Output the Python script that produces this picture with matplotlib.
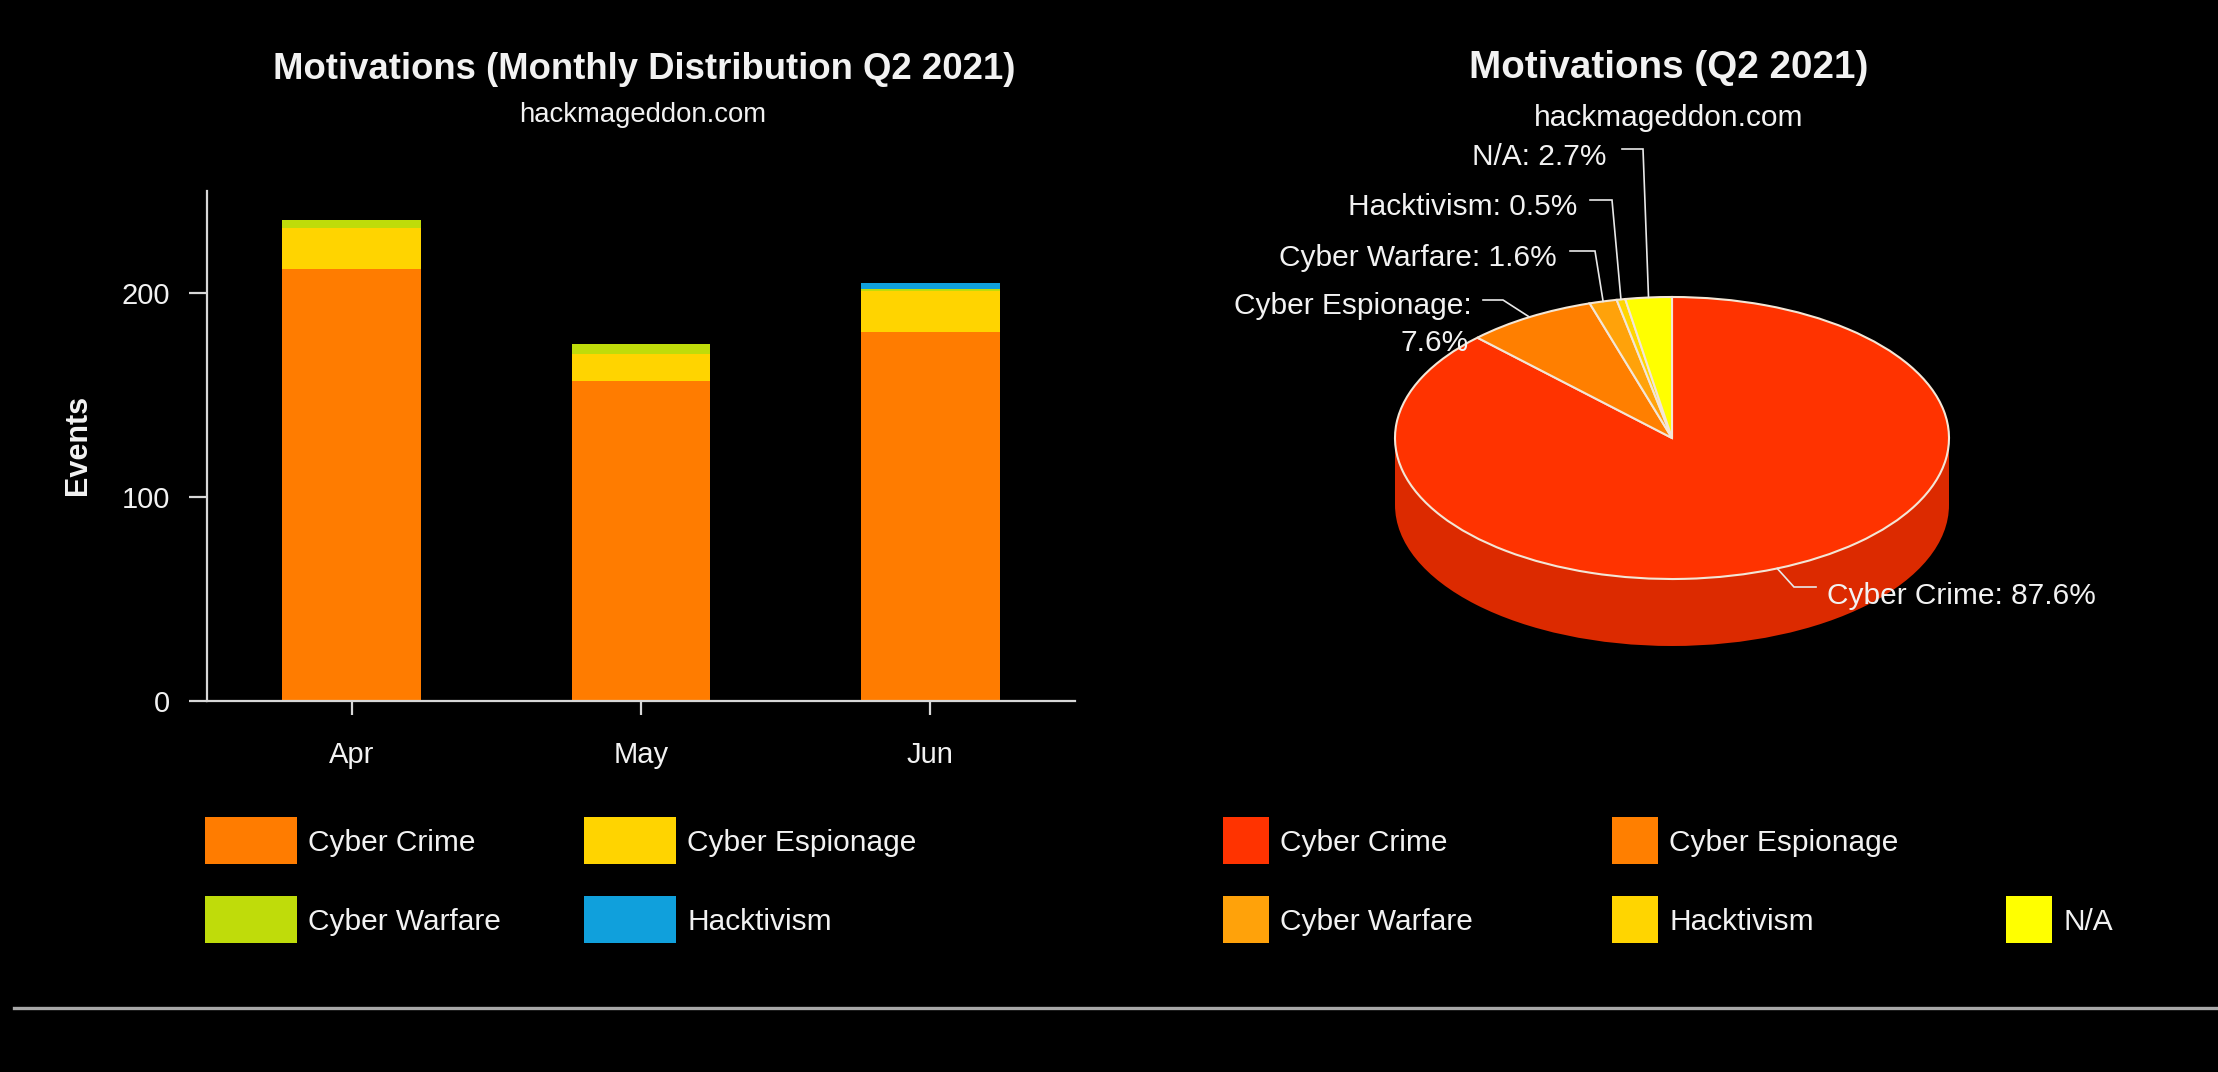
import matplotlib

matplotlib.use("Agg")
import matplotlib.pyplot as plt
import numpy as np
from matplotlib.lines import Line2D
from matplotlib.patches import Ellipse, Rectangle

plt.rcParams["font.family"] = ["Liberation Sans", "DejaVu Sans"]

# monthly counts per motivation (stacked bars)
MONTHS = ["Apr", "May", "Jun"]
MOTIVES = ["Cyber Crime", "Cyber Espionage", "Cyber Warfare", "Hacktivism"]
CYBER_CRIME = [212, 157, 181]
CYBER_ESPIONAGE = [20, 13, 20]
CYBER_WARFARE = [4, 5, 1]
HACKTIVISM = [0, 0, 3]
BAR_COLORS = ["#ff7c00", "#ffd400", "#bfdc0a", "#10a0dc"]
Y_TICKS = [0, 100, 200]

# quarter share per motivation (pie)
PIE_LABELS = ["Cyber Crime", "Cyber Espionage", "Cyber Warfare", "Hacktivism", "N/A"]
PIE_SHARES = [87.6, 7.6, 1.6, 0.5, 2.7]
PIE_COLORS = ["#ff3300", "#ff7f00", "#ffa20a", "#ffd500", "#ffff00"]

W, H = 2218, 1072
TEXT = "#f2f2f2"
AXIS = "#d8d8d8"


def fig_xy(px, py):
    return px / W, 1 - py / H


def pixel_rect(left, top, right, bottom):
    return [left / W, 1 - bottom / H, (right - left) / W, (bottom - top) / H]


fig = plt.figure(figsize=(W / 100, H / 100), dpi=100, facecolor="black")

# ---- stacked bars ----
ax = fig.add_axes(pixel_rect(207, 191, 1075, 701))
ax.set_facecolor("black")
x = np.arange(len(MONTHS))
bottom = np.zeros(len(MONTHS))
for vals, color in zip([CYBER_CRIME, CYBER_ESPIONAGE, CYBER_WARFARE, HACKTIVISM], BAR_COLORS):
    ax.bar(x, vals, width=0.48, bottom=bottom, color=color, linewidth=0)
    bottom += np.array(vals)

ax.set_xlim(-0.5, 2.5)
ax.set_ylim(0, 250)
ax.set_yticks(Y_TICKS)
ax.set_xticks(x, MONTHS)
for side in ["top", "right"]:
    ax.spines[side].set_visible(False)
for side in ["left", "bottom"]:
    ax.spines[side].set_color(AXIS)
    ax.spines[side].set_linewidth(1.6)
ax.tick_params(axis="y", length=13, width=1.6, pad=13.5, colors=AXIS, labelsize=21, labelcolor=TEXT)
ax.tick_params(axis="x", length=10, width=1.6, pad=19, colors=AXIS, labelsize=21, labelcolor=TEXT)
ax.set_ylabel("Events", fontsize=22, fontweight="bold", color=TEXT)
ax.yaxis.set_label_coords(-0.131, 0.502)

fig.text(*fig_xy(644, 79), "Motivations (Monthly Distribution Q2 2021)",
         ha="center", va="baseline", fontsize=26.3, fontweight="bold", color=TEXT)
fig.text(*fig_xy(643, 122), "hackmageddon.com",
         ha="center", va="baseline", fontsize=19.8, color=TEXT)

# ---- tilted pie ----
CX, CY, RX, RY, DEPTH = 1672, 438, 277, 141, 67
BOX_L, BOX_T, BOX_R, BOX_B = 1150, 100, 2200, 720
pax = fig.add_axes(pixel_rect(BOX_L, BOX_T, BOX_R, BOX_B))
pax.pie(PIE_SHARES, colors=PIE_COLORS, startangle=90, counterclock=False,
        wedgeprops=dict(edgecolor="#f3e6d6", linewidth=1.5))
pax.set_aspect("auto")
pax.set_xlim((BOX_L - CX) / RX, (BOX_R - CX) / RX)
pax.set_ylim((CY - BOX_B) / RY, (CY - BOX_T) / RY)
pax.axis("off")

# side wall of the disc, only the front half shows
d = DEPTH / RY
side = "#dc2a00"
pax.add_patch(Ellipse((0, -d), 2, 2, facecolor=side, edgecolor="none", zorder=0))
pax.add_patch(Rectangle((-1, -d), 2, d, facecolor=side, edgecolor="none", zorder=0))


def to_pie(px, py):
    return (px - CX) / RX, (CY - py) / RY


shares = np.array(PIE_SHARES)
mids = np.deg2rad(90 - 3.6 * (np.cumsum(shares) - shares / 2))

# label anchor (px), text alignment and leader elbow points (px)
LABEL_LAYOUT = [
    dict(text=(1827, 604), ha="left", leader=[(1794, 587), (1816, 587)], split=False),
    dict(text=(1472, 314), ha="right", leader=[(1503, 300), (1483, 300)], split=True),
    dict(text=(1557, 266), ha="right", leader=[(1595, 251), (1570, 251)], split=False),
    dict(text=(1577, 215), ha="right", leader=[(1612, 200), (1590, 200)], split=False),
    dict(text=(1607, 165), ha="right", leader=[(1643, 149), (1622, 149)], split=False),
]

for name, share, ang, lay in zip(PIE_LABELS, PIE_SHARES, mids, LABEL_LAYOUT):
    pts = [(np.cos(ang), np.sin(ang))] + [to_pie(*p) for p in lay["leader"]]
    xs, ys = zip(*pts)
    pax.plot(xs, ys, color="#e8e8e8", lw=1.2, solid_joinstyle="miter", zorder=2)
    tx, ty = to_pie(*lay["text"])
    if lay["split"]:
        pax.text(tx, ty, f"{name}:", ha="right", va="baseline", fontsize=21.5, color=TEXT)
        pax.text(*to_pie(lay["text"][0] - 3, lay["text"][1] + 37), f"{share}%",
                 ha="right", va="baseline", fontsize=21.5, color=TEXT)
    else:
        pax.text(tx, ty, f"{name}: {share}%", ha=lay["ha"], va="baseline",
                 fontsize=21.5, color=TEXT)

fig.text(*fig_xy(1669, 78), "Motivations (Q2 2021)",
         ha="center", va="baseline", fontsize=27.8, fontweight="bold", color=TEXT)
fig.text(*fig_xy(1669, 126), "hackmageddon.com",
         ha="center", va="baseline", fontsize=21.5, color=TEXT)

# ---- legends ----
ROWS = [840, 919]


def legend_item(x0, yc, width, color, label):
    fig.add_artist(Rectangle(fig_xy(x0, yc + 23.5), width / W, 47 / H,
                             transform=fig.transFigure, facecolor=color, edgecolor="none"))
    fig.text(*fig_xy(x0 + width + 11, yc + 10.7), label,
             ha="left", va="baseline", fontsize=21.5, color=TEXT)


bar_cols = [205, 584]
for i, (label, color) in enumerate(zip(MOTIVES, BAR_COLORS)):
    legend_item(bar_cols[i % 2], ROWS[i // 2], 92, color, label)

pie_cols = [1223, 1612, 2006]
pie_slots = [(0, 0), (0, 1), (1, 0), (1, 1), (1, 2)]
for (r, c), label, color in zip(pie_slots, PIE_LABELS, PIE_COLORS):
    legend_item(pie_cols[c], ROWS[r], 46, color, label)

# divider under the charts
fig.add_artist(Line2D([14 / W, 1.0], [1 - 1008 / H] * 2, color="#a8a8a8", lw=2.4))

fig.savefig("out.png", dpi=100, facecolor=fig.get_facecolor())
